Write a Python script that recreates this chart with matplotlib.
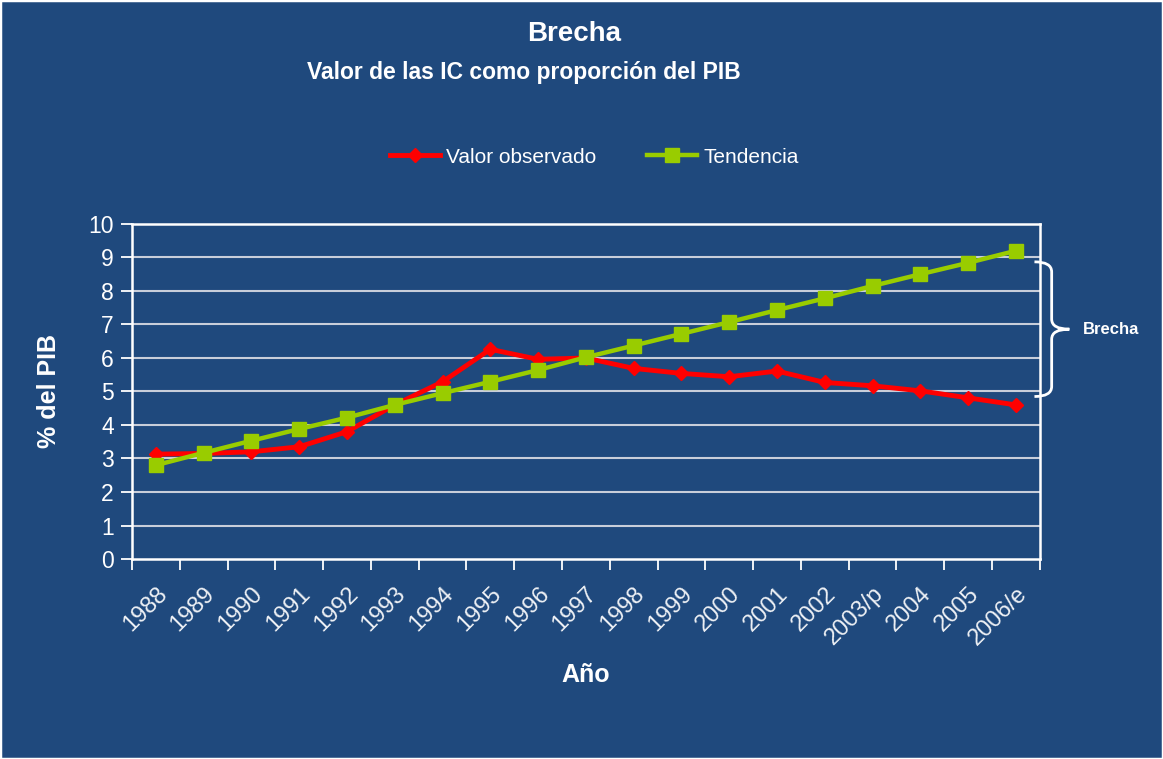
import matplotlib.pyplot as plt
import matplotlib.patches as patches
from matplotlib.path import Path
import numpy as np

# data
years = ['1988', '1989', '1990', '1991', '1992', '1993', '1994', '1995', '1996', '1997',
         '1998', '1999', '2000', '2001', '2002', '2003/p', '2004', '2005', '2006/e']
observado = [3.13, 3.15, 3.2, 3.35, 3.8, 4.6, 5.29, 6.26, 5.96, 6.0,
             5.69, 5.54, 5.44, 5.61, 5.27, 5.17, 5.02, 4.81, 4.6]
tendencia = [2.8, 3.17, 3.53, 3.88, 4.22, 4.6, 4.95, 5.29, 5.64, 6.02,
             6.37, 6.72, 7.07, 7.43, 7.78, 8.15, 8.5, 8.84, 9.2]
yticks = [0, 1, 2, 3, 4, 5, 6, 7, 8, 9, 10]

bg = '#1F497D'
plt.rcParams['font.family'] = ['Liberation Sans', 'DejaVu Sans']

fig = plt.figure(figsize=(11.63, 7.59), dpi=100, facecolor=bg)
ax = fig.add_axes([0.1135, 0.2635, 0.7805, 0.4414])
ax.set_facecolor(bg)

x = np.arange(len(years))
ax.plot(x, observado, color='#FF0000', lw=3.5, marker='D', markersize=7,
        label='Valor observado', zorder=3)
ax.plot(x, tendencia, color='#99CC00', lw=3.2, marker='s', markersize=10,
        label='Tendencia', zorder=4)

ax.set_xlim(-0.5, len(years) - 0.5)
ax.set_ylim(0, 10)
ax.set_yticks(yticks)
ax.set_yticklabels([str(v) for v in yticks], fontsize=16.5, color='white')
for v in yticks[1:-1]:
    ax.axhline(v, color='#C8CEDA', lw=1.5, zorder=1)

# category ticks sit between the years, labels sit at the years
ax.set_xticks(np.arange(-0.5, len(years), 1.0))
ax.set_xticklabels([])
ax.set_xticks(x, minor=True)
ax.set_xticklabels(years, minor=True, rotation=45, ha='right',
                   rotation_mode='anchor', fontsize=17, color='#EEF1F5')
ax.tick_params(axis='x', which='minor', length=0, pad=17)
ax.tick_params(axis='x', which='major', length=8, width=1.3, color='white', direction='out')
ax.tick_params(axis='y', length=8, width=1.3, color='white', direction='out', pad=5)

for s in ax.spines.values():
    s.set_color('white')
    s.set_linewidth(1.8)

ax.set_ylabel('% del PIB', fontsize=18, fontweight='bold', color='white', labelpad=20)
ax.set_xlabel('Año', fontsize=18, fontweight='bold', color='white', labelpad=10)

fig.text(0.4935, 0.955, 'Brecha', ha='center', va='center', fontsize=20,
         fontweight='bold', color='white')
fig.text(0.4506, 0.905, 'Valor de las IC como proporción del PIB', ha='center',
         va='center', fontsize=16.5, fontweight='bold', color='white')

leg = fig.legend(loc='center', bbox_to_anchor=(0.511, 0.793), ncol=2, frameon=False,
                 fontsize=15, handlelength=2.4, columnspacing=2.45, handletextpad=0.3)
for t in leg.get_texts():
    t.set_color('white')

# curly brace marking the gap at the last year
x0, x1, x2 = 18.39, 18.75, 19.12
yt = tendencia[-1] - 0.33
yb = observado[-1] + 0.25
ym = (yt + yb) / 2
r = 0.3
verts = [(x0, yt), (x1, yt), (x1, yt - r), (x1, ym + r), (x1, ym), (x2, ym),
         (x1, ym), (x1, ym - r), (x1, yb + r), (x1, yb), (x0, yb)]
codes = [Path.MOVETO, Path.CURVE3, Path.CURVE3, Path.LINETO, Path.CURVE3, Path.CURVE3,
         Path.CURVE3, Path.CURVE3, Path.LINETO, Path.CURVE3, Path.CURVE3]
brace = patches.PathPatch(Path(verts, codes), facecolor='none', edgecolor='white',
                          lw=2, clip_on=False, zorder=5)
ax.add_patch(brace)
ax.text(19.4, ym, 'Brecha', ha='left', va='center', fontsize=12,
        fontweight='bold', color='white', clip_on=False)

# thin light frame around the whole picture
fig.patches.append(patches.Rectangle((0, 0), 1, 1, transform=fig.transFigure,
                                     fill=False, edgecolor='white', lw=2.5))

plt.savefig('out.png', dpi=100, facecolor=bg)
